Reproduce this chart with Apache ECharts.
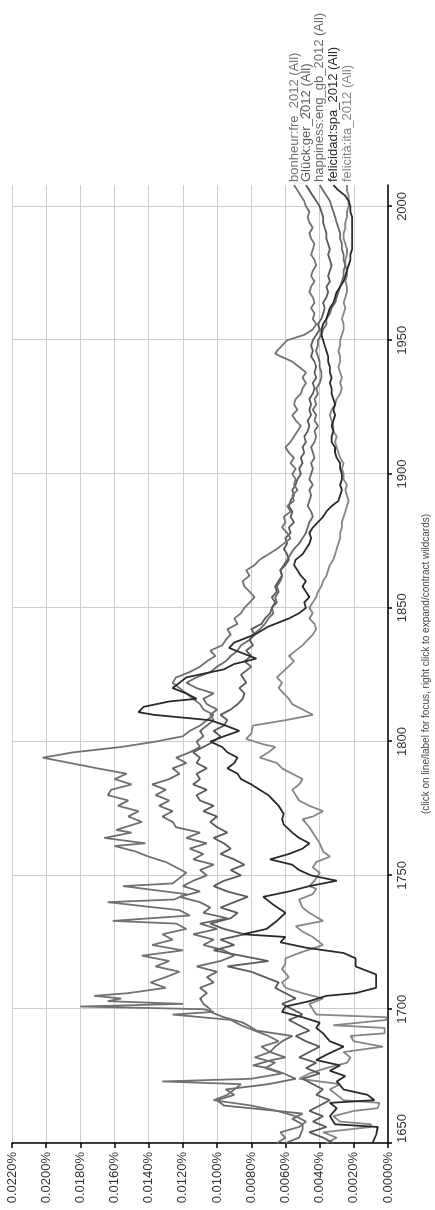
<!DOCTYPE html>
<html>
<head>
<meta charset="utf-8">
<script src="https://cdn.jsdelivr.net/npm/echarts@6/dist/echarts.min.js"></script>
<style>
  html, body { margin: 0; padding: 0; background: #fff; overflow: hidden; width: 435px; height: 1210px; }
  /* the chart is laid out landscape and turned a quarter turn counter-clockwise */
  #chart { position: absolute; left: 0; top: 1210px; width: 1210px; height: 435px;
           transform-origin: 0 0; transform: rotate(-90deg); }
</style>
</head>
<body>
<div id="chart"></div>
<script>
// Relative frequency (percent of all words) per year, smoothed
const bonheur = [[1650,.0065],[1652,.0060],[1654,.0063],[1656,.0052],[1658,.0048],[1660,.0054],[1662,.0065],[1664,.0080],[1666,.0102],[1668,.0094],[1670,.0090],[1672,.0086],[1673,.0132],[1674,.0080],[1676,.0062],[1678,.0072],[1680,.0066],[1682,.0078],[1684,.0069],[1686,.0074],[1688,.0064],[1690,.0070],[1692,.0078],[1694,.0086],[1696,.0092],[1698,.0126],[1699,.0102],[1700,.0108],[1701,.0180],[1702,.0120],[1703,.0164],[1704,.0156],[1705,.0172],[1706,.0152],[1708,.0130],[1710,.0139],[1712,.0130],[1714,.0122],[1716,.0136],[1718,.0128],[1720,.0144],[1722,.0120],[1724,.0138],[1726,.0126],[1728,.0132],[1730,.0118],[1732,.0124],[1733,.0161],[1735,.0116],[1737,.0122],[1740,.0164],[1741,.0125],[1743,.0118],[1746,.0155],[1747,.0126],[1749,.0122],[1751,.0118],[1753,.0124],[1755,.0130],[1757,.0140],[1759,.0148],[1761,.0160],[1762,.0142],[1764,.0166],[1766,.0150],[1767,.0159],[1770,.0144],[1772,.0152],[1774,.0146],[1776,.0158],[1778,.0152],[1780,.0164],[1782,.0162],[1784,.0150],[1786,.0160],[1788,.0153],[1790,.0170],[1792,.0186],[1794,.0202],[1796,.0184],[1798,.0156],[1800,.0136],[1802,.0120],[1804,.0116],[1806,.0110],[1808,.0106],[1810,.0102],[1812,.0108],[1814,.0110],[1816,.0114],[1818,.0118],[1820,.0122],[1822,.0126],[1824,.0124],[1826,.0116],[1828,.0110],[1830,.0106],[1832,.0101],[1834,.0104],[1836,.0097],[1838,.0095],[1840,.0092],[1842,.0094],[1844,.0088],[1846,.0090],[1848,.0086],[1850,.0084],[1852,.0081],[1854,.0078],[1856,.0081],[1858,.0084],[1860,.0085],[1862,.0081],[1864,.0083],[1866,.0078],[1868,.0075],[1870,.0070],[1872,.0065],[1874,.0061],[1876,.0057],[1878,.0059],[1880,.0062],[1882,.0060],[1884,.0061],[1886,.0057],[1888,.0059],[1890,.0055],[1892,.0056],[1894,.0053],[1896,.0055],[1898,.0054],[1900,.0056],[1902,.0054],[1904,.0057],[1906,.0055],[1908,.0058],[1910,.0060],[1912,.0057],[1914,.0055],[1916,.0053],[1918,.0051],[1920,.0054],[1922,.0056],[1924,.0053],[1926,.0055],[1928,.0054],[1930,.0051],[1932,.0050],[1934,.0048],[1936,.0050],[1938,.0048],[1940,.0052],[1942,.0056],[1944,.0063],[1945,.0066],[1946,.0065],[1948,.0062],[1950,.0059],[1951,.0054],[1952,.0049],[1954,.0044],[1956,.0042],[1958,.0044],[1960,.0043],[1962,.0045],[1964,.0043],[1966,.0044],[1968,.0046],[1970,.0045],[1972,.0043],[1974,.0045],[1976,.0044],[1978,.0042],[1980,.0043],[1982,.0045],[1984,.0044],[1986,.0043],[1988,.0045],[1990,.0046],[1992,.0044],[1994,.0046],[1996,.0047],[1998,.0046],[2000,.0048],[2002,.0049],[2004,.0051],[2006,.0053],[2008,.0055]];

const glueck = [[1650,.0032],[1652,.0038],[1654,.0046],[1656,.0036],[1658,.0044],[1660,.0038],[1662,.0046],[1664,.0040],[1666,.0034],[1668,.0042],[1670,.0038],[1672,.0044],[1674,.0050],[1676,.0040],[1678,.0048],[1680,.0042],[1682,.0052],[1684,.0046],[1686,.0040],[1688,.0048],[1690,.0054],[1692,.0046],[1694,.0052],[1696,.0058],[1698,.0050],[1700,.0056],[1702,.0062],[1704,.0054],[1706,.0060],[1708,.0066],[1710,.0064],[1712,.0072],[1714,.0080],[1716,.0094],[1718,.0070],[1720,.0086],[1722,.0102],[1724,.0090],[1726,.0098],[1728,.0084],[1730,.0096],[1732,.0104],[1734,.0092],[1736,.0088],[1738,.0098],[1740,.0090],[1742,.0082],[1744,.0094],[1746,.0102],[1748,.0096],[1750,.0086],[1752,.0092],[1754,.0084],[1756,.0090],[1758,.0098],[1760,.0092],[1762,.0096],[1764,.0102],[1766,.0094],[1768,.0100],[1770,.0104],[1772,.0100],[1774,.0108],[1776,.0102],[1778,.0110],[1780,.0112],[1782,.0106],[1784,.0114],[1786,.0110],[1788,.0112],[1790,.0106],[1792,.0112],[1794,.0110],[1796,.0114],[1798,.0108],[1800,.0102],[1802,.0098],[1804,.0102],[1806,.0096],[1808,.0094],[1810,.0098],[1812,.0092],[1814,.0088],[1816,.0085],[1818,.0084],[1820,.0087],[1822,.0083],[1825,.0086],[1828,.0080],[1830,.0084],[1832,.0080],[1834,.0083],[1836,.0079],[1838,.0081],[1840,.0078],[1842,.0080],[1844,.0074],[1846,.0072],[1848,.0069],[1850,.0068],[1852,.0066],[1854,.0068],[1856,.0065],[1858,.0066],[1860,.0064],[1862,.0062],[1864,.0063],[1866,.0060],[1868,.0058],[1870,.0059],[1872,.0061],[1874,.0059],[1876,.0060],[1878,.0057],[1880,.0058],[1882,.0055],[1884,.0057],[1886,.0056],[1888,.0058],[1890,.0057],[1892,.0055],[1894,.0056],[1896,.0054],[1898,.0053],[1900,.0051],[1902,.0052],[1904,.0050],[1906,.0051],[1908,.0049],[1910,.0050],[1912,.0048],[1914,.0049],[1916,.0047],[1918,.0046],[1920,.0047],[1922,.0045],[1924,.0046],[1926,.0045],[1928,.0046],[1930,.0044],[1932,.0043],[1934,.0044],[1936,.0042],[1938,.0043],[1940,.0042],[1942,.0043],[1944,.0045],[1946,.0044],[1948,.0045],[1950,.0044],[1952,.0042],[1954,.0040],[1956,.0041],[1958,.0039],[1960,.0038],[1962,.0037],[1964,.0038],[1966,.0036],[1968,.0035],[1970,.0036],[1972,.0034],[1974,.0035],[1976,.0034],[1978,.0033],[1980,.0034],[1982,.0035],[1984,.0034],[1986,.0035],[1988,.0036],[1990,.0036],[1992,.0037],[1994,.0038],[1996,.0038],[1998,.0039],[2000,.0040],[2002,.0042],[2004,.0044],[2006,.0046],[2008,.0048]];

const happiness = [[1650,.0060],[1652,.0052],[1655,.0050],[1657,.0050],[1659,.0056],[1661,.0050],[1662,.0065],[1664,.0096],[1666,.0100],[1668,.0090],[1670,.0095],[1672,.0070],[1674,.0054],[1676,.0061],[1678,.0070],[1679,.0079],[1681,.0068],[1682,.0060],[1684,.0069],[1686,.0066],[1688,.0062],[1690,.0056],[1692,.0077],[1694,.0082],[1695,.0085],[1697,.0096],[1699,.0104],[1700,.0104],[1702,.0108],[1704,.0110],[1706,.0106],[1708,.0110],[1710,.0102],[1712,.0106],[1714,.0100],[1716,.0112],[1718,.0098],[1720,.0090],[1722,.0096],[1724,.0108],[1726,.0102],[1728,.0114],[1730,.0100],[1732,.0110],[1734,.0094],[1736,.0108],[1738,.0104],[1740,.0110],[1742,.0122],[1744,.0110],[1746,.0120],[1748,.0114],[1750,.0106],[1752,.0110],[1754,.0102],[1756,.0114],[1758,.0108],[1760,.0116],[1762,.0106],[1764,.0118],[1766,.0110],[1768,.0124],[1770,.0126],[1772,.0132],[1774,.0126],[1776,.0134],[1778,.0128],[1780,.0136],[1782,.0130],[1784,.0138],[1786,.0128],[1788,.0122],[1790,.0126],[1792,.0118],[1794,.0124],[1796,.0116],[1798,.0110],[1800,.0112],[1802,.0108],[1804,.0110],[1806,.0106],[1808,.0102],[1810,.0104],[1812,.0100],[1814,.0106],[1816,.0108],[1818,.0102],[1820,.0112],[1822,.0118],[1824,.0112],[1826,.0104],[1828,.0100],[1830,.0095],[1832,.0092],[1834,.0088],[1836,.0086],[1838,.0081],[1840,.0079],[1842,.0075],[1844,.0072],[1846,.0070],[1848,.0067],[1850,.0068],[1852,.0065],[1854,.0066],[1856,.0064],[1858,.0065],[1860,.0063],[1862,.0062],[1864,.0063],[1866,.0061],[1868,.0059],[1870,.0057],[1872,.0055],[1874,.0052],[1876,.0050],[1878,.0048],[1880,.0047],[1882,.0046],[1884,.0044],[1886,.0045],[1888,.0047],[1890,.0046],[1892,.0045],[1894,.0046],[1896,.0044],[1898,.0046],[1900,.0045],[1902,.0044],[1904,.0045],[1906,.0043],[1908,.0044],[1910,.0045],[1912,.0043],[1914,.0042],[1916,.0043],[1918,.0041],[1920,.0043],[1922,.0042],[1924,.0044],[1926,.0042],[1928,.0043],[1930,.0041],[1932,.0042],[1934,.0040],[1936,.0039],[1938,.0039],[1940,.0040],[1942,.0040],[1944,.0041],[1946,.0042],[1948,.0041],[1950,.0041],[1952,.0039],[1954,.0038],[1956,.0036],[1958,.0036],[1960,.0034],[1962,.0033],[1964,.0031],[1966,.0030],[1968,.0029],[1970,.0028],[1972,.0027],[1974,.0026],[1976,.0026],[1978,.0025],[1980,.0026],[1982,.0026],[1984,.0027],[1986,.0027],[1988,.0028],[1990,.0028],[1992,.0029],[1994,.0030],[1996,.0031],[1998,.0032],[2000,.0033],[2002,.0034],[2004,.0036],[2006,.0038],[2008,.0040]];

const felicidad = [[1650,.0009],[1653,.0007],[1656,.0006],[1657,.0031],[1660,.0034],[1663,.0030],[1665,.0034],[1666,.0008],[1668,.0012],[1670,.0026],[1673,.0030],[1675,.0025],[1677,.0034],[1679,.0028],[1681,.0042],[1683,.0036],[1686,.0026],[1688,.0034],[1691,.0038],[1693,.0042],[1695,.0040],[1697,.0050],[1699,.0062],[1701,.0060],[1703,.0046],[1705,.0036],[1706,.0019],[1708,.0007],[1713,.0007],[1716,.0019],[1719,.0019],[1721,.0026],[1723,.0048],[1725,.0063],[1727,.0060],[1728,.0085],[1730,.0071],[1733,.0065],[1736,.0060],[1739,.0067],[1742,.0073],[1744,.0058],[1746,.0046],[1748,.0030],[1750,.0045],[1752,.0052],[1754,.0056],[1756,.0069],[1758,.0058],[1760,.0050],[1762,.0046],[1764,.0052],[1766,.0056],[1769,.0061],[1771,.0062],[1773,.0061],[1776,.0064],[1778,.0067],[1780,.0070],[1782,.0075],[1784,.0080],[1786,.0086],[1788,.0088],[1790,.0094],[1792,.0090],[1794,.0088],[1796,.0094],[1798,.0097],[1800,.0104],[1802,.0096],[1804,.0087],[1806,.0095],[1808,.0104],[1810,.0137],[1811,.0146],[1813,.0143],[1815,.0128],[1816,.0112],[1818,.0118],[1820,.0126],[1822,.0122],[1824,.0118],[1827,.0096],[1829,.0090],[1831,.0077],[1833,.0085],[1835,.0093],[1837,.0090],[1840,.0078],[1843,.0070],[1846,.0058],[1848,.0052],[1850,.0048],[1852,.0049],[1854,.0046],[1856,.0048],[1858,.0050],[1860,.0048],[1862,.0051],[1864,.0053],[1866,.0055],[1868,.0054],[1870,.0050],[1872,.0048],[1874,.0046],[1876,.0045],[1878,.0046],[1880,.0044],[1882,.0041],[1884,.0038],[1886,.0036],[1888,.0033],[1890,.0029],[1892,.0028],[1894,.0027],[1896,.0028],[1898,.0027],[1900,.0027],[1902,.0028],[1904,.0028],[1906,.0030],[1908,.0031],[1910,.0031],[1912,.0033],[1914,.0033],[1916,.0032],[1918,.0033],[1920,.0032],[1922,.0031],[1924,.0032],[1926,.0031],[1928,.0032],[1930,.0033],[1932,.0033],[1934,.0034],[1936,.0033],[1938,.0034],[1940,.0034],[1942,.0035],[1944,.0035],[1946,.0036],[1948,.0037],[1950,.0038],[1952,.0039],[1954,.0039],[1956,.0038],[1958,.0036],[1960,.0035],[1962,.0034],[1964,.0032],[1966,.0031],[1968,.0030],[1970,.0028],[1972,.0026],[1974,.0025],[1976,.0024],[1978,.0023],[1980,.0022],[1982,.0022],[1984,.0021],[1986,.0021],[1988,.0021],[1990,.0021],[1992,.0021],[1994,.0021],[1996,.0021],[1998,.0022],[2000,.0022],[2002,.0023],[2004,.0025],[2006,.0029],[2008,.0032]];

const felicita = [[1650,.0036],[1652,.0030],[1654,.0038],[1656,.0010],[1657,.0010],[1658,.0028],[1660,.0032],[1662,.0020],[1663,.0006],[1665,.0005],[1666,.0026],[1668,.0030],[1670,.0034],[1672,.0028],[1674,.0052],[1676,.0046],[1678,.0036],[1680,.0024],[1682,.0022],[1684,.0026],[1686,.0003],[1688,.0020],[1690,.0022],[1691,.0002],[1693,.0002],[1694,.0032],[1696,.0001],[1697,.0001],[1698,.0042],[1700,.0044],[1702,.0046],[1704,.0038],[1706,.0050],[1708,.0060],[1710,.0062],[1712,.0058],[1715,.0062],[1717,.0060],[1719,.0060],[1721,.0052],[1724,.0038],[1727,.0044],[1729,.0050],[1731,.0054],[1733,.0038],[1736,.0046],[1738,.0050],[1741,.0052],[1743,.0044],[1745,.0042],[1746,.0046],[1748,.0043],[1751,.0040],[1753,.0044],[1755,.0042],[1757,.0034],[1759,.0038],[1762,.0040],[1765,.0043],[1768,.0046],[1771,.0050],[1772,.0044],[1774,.0038],[1776,.0046],[1778,.0052],[1780,.0054],[1782,.0056],[1784,.0052],[1786,.0050],[1788,.0056],[1790,.0062],[1792,.0065],[1794,.0075],[1796,.0070],[1798,.0066],[1799,.0073],[1801,.0083],[1803,.0080],[1806,.0079],[1808,.0060],[1810,.0044],[1812,.0050],[1814,.0056],[1816,.0058],[1818,.0061],[1820,.0064],[1822,.0062],[1824,.0065],[1827,.0060],[1830,.0055],[1832,.0058],[1834,.0054],[1836,.0050],[1838,.0047],[1840,.0044],[1842,.0042],[1844,.0043],[1846,.0046],[1848,.0044],[1850,.0046],[1852,.0044],[1854,.0042],[1856,.0041],[1858,.0039],[1860,.0038],[1862,.0036],[1864,.0035],[1866,.0034],[1868,.0032],[1870,.0031],[1872,.0030],[1874,.0029],[1876,.0028],[1878,.0028],[1880,.0027],[1882,.0027],[1884,.0026],[1886,.0025],[1888,.0024],[1890,.0023],[1892,.0024],[1894,.0025],[1896,.0024],[1898,.0026],[1900,.0026],[1902,.0027],[1904,.0026],[1906,.0028],[1908,.0029],[1910,.0030],[1912,.0031],[1914,.0030],[1916,.0032],[1918,.0032],[1920,.0033],[1922,.0034],[1924,.0033],[1926,.0031],[1928,.0030],[1930,.0028],[1932,.0027],[1934,.0028],[1936,.0027],[1938,.0028],[1940,.0029],[1942,.0028],[1944,.0028],[1946,.0029],[1948,.0028],[1950,.0028],[1952,.0027],[1954,.0026],[1956,.0026],[1958,.0027],[1960,.0026],[1962,.0025],[1964,.0026],[1966,.0025],[1968,.0024],[1970,.0024],[1972,.0025],[1974,.0024],[1976,.0024],[1978,.0025],[1980,.0025],[1982,.0024],[1984,.0024],[1986,.0025],[1988,.0026],[1990,.0026],[1992,.0025],[1994,.0025],[1996,.0024],[1998,.0024],[2000,.0023],[2002,.0023],[2004,.0023],[2006,.0024],[2008,.0024]];

const seriesNames = ['bonheur:fre_2012 (All)', 'Glück:ger_2012 (All)', 'happiness:eng_gb_2012 (All)', 'felicidad:spa_2012 (All)', 'felicità:ita_2012 (All)'];
const seriesData = [bonheur, glueck, happiness, felicidad, felicita];
const seriesColors = ['#727272', '#5a5a5a', '#6a6a6a', '#2a2a2a', '#868686'];
const footnote = '(click on line/label for focus, right click to expand/contract wildcards)';

const FONT = '"Liberation Sans", Arial, Helvetica, sans-serif';

const chart = echarts.init(document.getElementById('chart'), null, { renderer: 'canvas' });

// draw the darkest line last so it sits on top
const order = [4, 2, 1, 0, 3];
const series = order.map(i => ({
  name: seriesNames[i],
  type: 'line',
  data: seriesData[i],
  symbol: 'none',
  smooth: false,
  lineStyle: { color: seriesColors[i], width: 1.8 },
  itemStyle: { color: seriesColors[i] },
  emphasis: { disabled: true },
  endLabel: {
    show: true,
    formatter: seriesNames[i],
    color: seriesColors[i],
    fontSize: 13,
    fontFamily: FONT,
    distance: 3
  }
}));

chart.setOption({
  animation: false,
  backgroundColor: '#ffffff',
  grid: { left: 67, top: 12, width: 958, height: 376, containLabel: false },
  xAxis: {
    type: 'value',
    min: 1650,
    max: 2008,
    interval: 50,
    axisLine: { show: true, onZero: false, lineStyle: { color: '#000', width: 1.5 } },
    axisTick: { show: true, length: 4, lineStyle: { color: '#000', width: 1.5 } },
    axisLabel: {
      show: true, color: '#333', fontSize: 13, fontFamily: FONT, margin: 8,
      showMaxLabel: false, alignMinLabel: 'left',
      formatter: v => String(v)
    },
    splitLine: { show: true, showMaxLine: false, lineStyle: { color: '#cccccc', width: 1 } }
  },
  yAxis: {
    type: 'value',
    min: 0,
    max: 0.022,
    interval: 0.002,
    axisLine: { show: true, lineStyle: { color: '#000', width: 1.5 } },
    axisTick: { show: true, length: 5, lineStyle: { color: '#000', width: 1.5 } },
    axisLabel: {
      color: '#333', fontSize: 13, fontFamily: FONT, margin: 9,
      formatter: v => v.toFixed(4) + '%'
    },
    splitLine: { show: true, lineStyle: { color: '#cccccc', width: 1 } }
  },
  graphic: [{
    type: 'text',
    x: 546,
    y: 426,
    style: {
      text: footnote,
      font: '10px ' + FONT,
      fill: '#444',
      textAlign: 'center',
      textVerticalAlign: 'middle'
    }
  }],
  series: series
});
</script>
</body>
</html>
